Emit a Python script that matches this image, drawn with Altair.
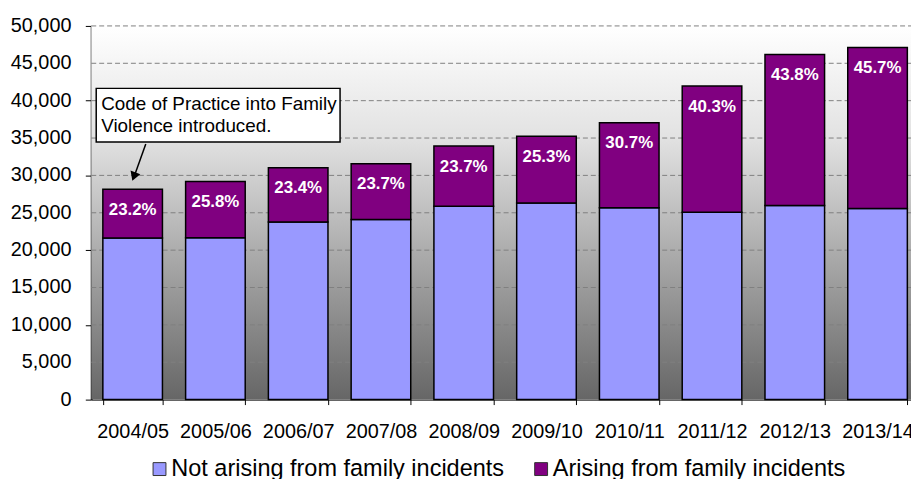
import altair as alt
import pandas as pd

years = ["2004/05", "2005/06", "2006/07", "2007/08", "2008/09",
         "2009/10", "2010/11", "2011/12", "2012/13", "2013/14"]
not_arising = [21630, 21650, 23770, 24090, 25880, 26320, 25680, 25070, 25960, 25580]
arising = [6530, 7530, 7260, 7480, 8050, 8930, 11380, 16900, 20220, 21520]
pct_labels = ["23.2%", "25.8%", "23.4%", "23.7%", "23.7%", "25.3%", "30.7%", "40.3%", "43.8%", "45.7%"]
series = ["Not arising from family incidents", "Arising from family incidents"]
series_colors = ["#9999FF", "#800080"]
y_ticks = [0, 5000, 10000, 15000, 20000, 25000, 30000, 35000, 40000, 45000, 50000]
y_tick_labels = ["0", "5,000", "10,000", "15,000", "20,000", "25,000",
                 "30,000", "35,000", "40,000", "45,000", "50,000"]
note_lines = ["Code of Practice into Family", "Violence introduced."]

FONT = "Liberation Sans"
W, H = 827, 377
BAND_RANGE = 835

rows = []
for i, yr in enumerate(years):
    rows.append({"year": yr, "series": series[0], "value": not_arising[i], "ord": 0})
    rows.append({"year": yr, "series": series[1], "value": arising[i], "ord": 1})
df = pd.DataFrame(rows)

tot = pd.DataFrame({
    "year": years,
    "total": [a + b for a, b in zip(not_arising, arising)],
    "label": pct_labels,
})

ticks_df = pd.DataFrame({"v": y_ticks, "lab": y_tick_labels})

xscale = alt.Scale(domain=years, range=[0, BAND_RANGE], paddingInner=0.28, paddingOuter=0.14)
yscale = alt.Scale(domain=[0, 50000], nice=False)

yaxis = alt.Axis(values=y_ticks, labels=False, grid=False, tickSize=6,
                 tickColor="#000000", domainColor="#000000", domainWidth=2)
xaxis = alt.Axis(labelAngle=0, tickBand="extent", tickSize=5, tickColor="#000000",
                 domainColor="#000000", domainWidth=1, labelFontSize=20,
                 labelFont=FONT, labelColor="#000000", labelPadding=17,
                 labelOverlap=False)

one = alt.Data(values=[{"a": 1}])

background = alt.Chart(one).mark_rect(
    fill=alt.LinearGradient(
        gradient="linear",
        stops=[
            alt.GradientStop(color="#ffffff", offset=0),
            alt.GradientStop(color="#e2e2e2", offset=0.3),
            alt.GradientStop(color="#666666", offset=1),
        ],
        x1=0, x2=0, y1=0, y2=1,
    )
).encode(x=alt.value(0), x2=alt.value(BAND_RANGE), y=alt.value(0), y2=alt.value(H))

grid = alt.Chart(ticks_df[ticks_df["v"] > 0]).mark_rule(
    color="#808080", strokeWidth=1, strokeDash=[5, 3]
).encode(
    y=alt.Y("v:Q", scale=yscale, axis=yaxis, title=None),
    x=alt.value(0), x2=alt.value(BAND_RANGE),
)

ylabels = alt.Chart(ticks_df).mark_text(
    align="right", baseline="middle", fontSize=20, font=FONT, color="#000000"
).encode(
    y=alt.Y("v:Q", scale=yscale, axis=yaxis, title=None),
    x=alt.value(-20),
    text="lab:N",
)

bars = alt.Chart(df).mark_bar(stroke="#000000", strokeWidth=1.5).encode(
    x=alt.X("year:N", scale=xscale, sort=years, title=None, axis=xaxis),
    y=alt.Y("value:Q", stack="zero", scale=yscale, title=None, axis=yaxis),
    color=alt.Color("series:N", scale=alt.Scale(domain=series, range=series_colors),
                    legend=alt.Legend(orient="none", legendX=57, legendY=435,
                                      direction="horizontal", title=None,
                                      labelFontSize=23.7, labelFont=FONT, labelColor="#000000",
                                      symbolType="square", symbolSize=169,
                                      symbolStrokeColor="#333333", symbolStrokeWidth=1,
                                      labelOffset=0, columnPadding=25, labelLimit=0,
                                      padding=0)),
    order=alt.Order("ord:Q", sort="ascending"),
)

labels = alt.Chart(tot).mark_text(
    color="white", fontWeight="bold", fontSize=17, font=FONT, baseline="middle", dy=21
).encode(
    x=alt.X("year:N", scale=xscale, sort=years),
    y=alt.Y("total:Q", scale=yscale),
    text="label:N",
)

box = alt.Chart(one).mark_rect(fill="white", stroke="#000000", strokeWidth=1.5).encode(
    x=alt.value(5), x2=alt.value(251), y=alt.value(63), y2=alt.value(117)
)

note1 = alt.Chart(one).mark_text(
    align="left", baseline="middle", fontSize=19, font=FONT, color="#000000"
).encode(x=alt.value(10), y=alt.value(79), text=alt.value(note_lines[0]))

note2 = alt.Chart(one).mark_text(
    align="left", baseline="middle", fontSize=19, font=FONT, color="#000000"
).encode(x=alt.value(10), y=alt.value(101), text=alt.value(note_lines[1]))

arrow_line = alt.Chart(one).mark_rule(color="#000000", strokeWidth=1.5).encode(
    x=alt.value(55), x2=alt.value(44), y=alt.value(119), y2=alt.value(150)
)

arrow_head = alt.Chart(one).mark_point(
    shape="triangle-down", filled=True, color="#000000", size=110, angle=20, opacity=1
).encode(x=alt.value(43), y=alt.value(152))

chart = alt.layer(
    background, grid, ylabels, bars, labels, box, note1, note2, arrow_line, arrow_head
).properties(
    width=W, height=H,
    autosize=alt.AutoSizeParams(type="none"),
    padding={"left": 84, "top": 16, "right": 0, "bottom": 78},
).configure_view(stroke=None)

chart.save("out.html", embed_options={"renderer": "svg", "actions": False})
